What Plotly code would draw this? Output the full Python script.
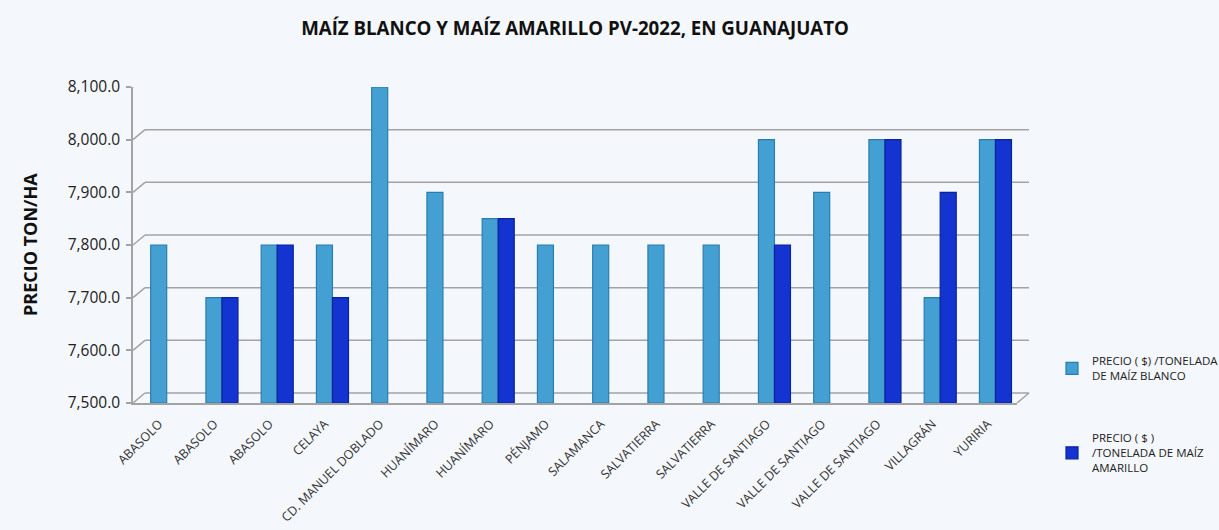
import plotly.graph_objects as go

categories = ["ABASOLO", "ABASOLO", "ABASOLO", "CELAYA", "CD. MANUEL DOBLADO",
              "HUANÍMARO", "HUANÍMARO", "PÉNJAMO", "SALAMANCA", "SALVATIERRA",
              "SALVATIERRA", "VALLE DE SANTIAGO", "VALLE DE SANTIAGO",
              "VALLE DE SANTIAGO", "VILLAGRÁN", "YURIRIA"]
blanco = [7800, 7700, 7800, 7800, 8100, 7900, 7850, 7800, 7800, 7800, 7800,
          8000, 7900, 8000, 7700, 8000]
amarillo = [None, 7700, 7800, 7700, None, None, 7850, None, None, None, None,
            7800, None, 8000, 7900, 8000]
y_ticks = [7500, 7600, 7700, 7800, 7900, 8000, 8100]

name_blanco = "PRECIO ( $) /TONELADA<br>DE MAÍZ BLANCO"
name_amarillo = "PRECIO ( $ )<br>/TONELADA DE MAÍZ<br>AMARILLO"

Y_MIN, Y_MAX = 7500, 8100
x_idx = list(range(len(categories)))

fig = go.Figure()
fig.add_trace(go.Bar(
    x=x_idx, y=[v - Y_MIN if v is not None else None for v in blanco], base=Y_MIN,
    name=name_blanco, legendgroup="a",
    marker=dict(color="#449fd2", line=dict(color="#2b7db0", width=1.2)),
))
fig.add_trace(go.Bar(
    x=x_idx, y=[v - Y_MIN if v is not None else None for v in amarillo], base=Y_MIN,
    name=name_amarillo, legendgroup="b",
    marker=dict(color="#1334d0", line=dict(color="#0a2399", width=1.2)),
))

W, H = 1219, 530
font_main = "Open Sans, Liberation Sans, sans-serif"
grid_c = "#a3a3a3"
DX, DY = 12, 10          # depth offset of back wall in pixels
PLOT_L, PLOT_R = 133, 1017
PLOT_T, PLOT_B = 87, 403
PLOT_W = PLOT_R - PLOT_L

shapes = []
for t in y_ticks:
    shapes.append(dict(type="line", xref="paper", yref="y",
                       xsizemode="pixel", ysizemode="pixel", xanchor=0, yanchor=t,
                       x0=DX, x1=PLOT_W + DX, y0=DY, y1=DY,
                       line=dict(color=grid_c, width=1.5), layer="below"))
    shapes.append(dict(type="line", xref="paper", yref="y",
                       xsizemode="pixel", ysizemode="pixel", xanchor=0, yanchor=t,
                       x0=0, x1=DX, y0=0, y1=DY,
                       line=dict(color=grid_c, width=1.5), layer="below"))
shapes.append(dict(type="line", xref="paper", yref="y",
                   xsizemode="pixel", ysizemode="pixel", xanchor=1, yanchor=Y_MIN,
                   x0=0, x1=DX, y0=0, y1=DY,
                   line=dict(color=grid_c, width=1.5), layer="below"))

fig.update_layout(
    width=W, height=H,
    margin=dict(l=PLOT_L, r=W - PLOT_R, t=PLOT_T, b=H - PLOT_B, autoexpand=False),
    paper_bgcolor="#f4f7fb",
    plot_bgcolor="rgba(0,0,0,0)",
    barmode="group", bargap=0.42, bargroupgap=0,
    title=dict(
        text="<b>MAÍZ BLANCO Y MAÍZ AMARILLO PV-2022, EN GUANAJUATO</b>",
        x=0.5, xref="paper", xanchor="center",
        y=1 - 28 / H, yanchor="middle",
        font=dict(family=font_main, size=18.7, color="#111111"),
    ),
    showlegend=True,
    legend=dict(
        xref="container", yref="container",
        x=1052 / W, y=1 - 347 / H, xanchor="left", yanchor="top",
        font=dict(family=font_main, size=11.5, color="#222222"),
        bgcolor="rgba(0,0,0,0)",
        traceorder="grouped", tracegroupgap=44,
        itemwidth=30,
    ),
    xaxis=dict(
        tickmode="array", tickvals=[i - 0.14 for i in x_idx], ticktext=categories,
        tickangle=-45, range=[-0.61, len(categories) - 0.61],
        tickfont=dict(family=font_main, size=12.5, color="#333333"),
        showline=True, linecolor=grid_c, linewidth=1.5,
        showgrid=False, ticks="", automargin=False, ticklabelstandoff=7,
    ),
    yaxis=dict(
        range=[Y_MIN, Y_MAX], tickvals=y_ticks, tickformat=",.1f",
        tickfont=dict(family=font_main, size=15.5, color="#222222"),
        showline=True, linecolor=grid_c, linewidth=1.5,
        ticks="outside", ticklen=5, tickcolor=grid_c, tickwidth=1.5,
        showgrid=False, zeroline=False, automargin=False, ticklabelstandoff=3,
    ),
    shapes=shapes,
    annotations=[dict(
        text="<b>PRECIO TON/HA</b>", textangle=-90,
        xref="paper", yref="paper", x=(30 - PLOT_L) / PLOT_W, y=0.5,
        xanchor="center", yanchor="middle", showarrow=False,
        font=dict(family=font_main, size=18, color="#111111"),
    )],
)

fig.write_html("out.html", config={"displayModeBar": False},
               post_script="document.body.style.margin='0';document.body.style.overflow='hidden';")
